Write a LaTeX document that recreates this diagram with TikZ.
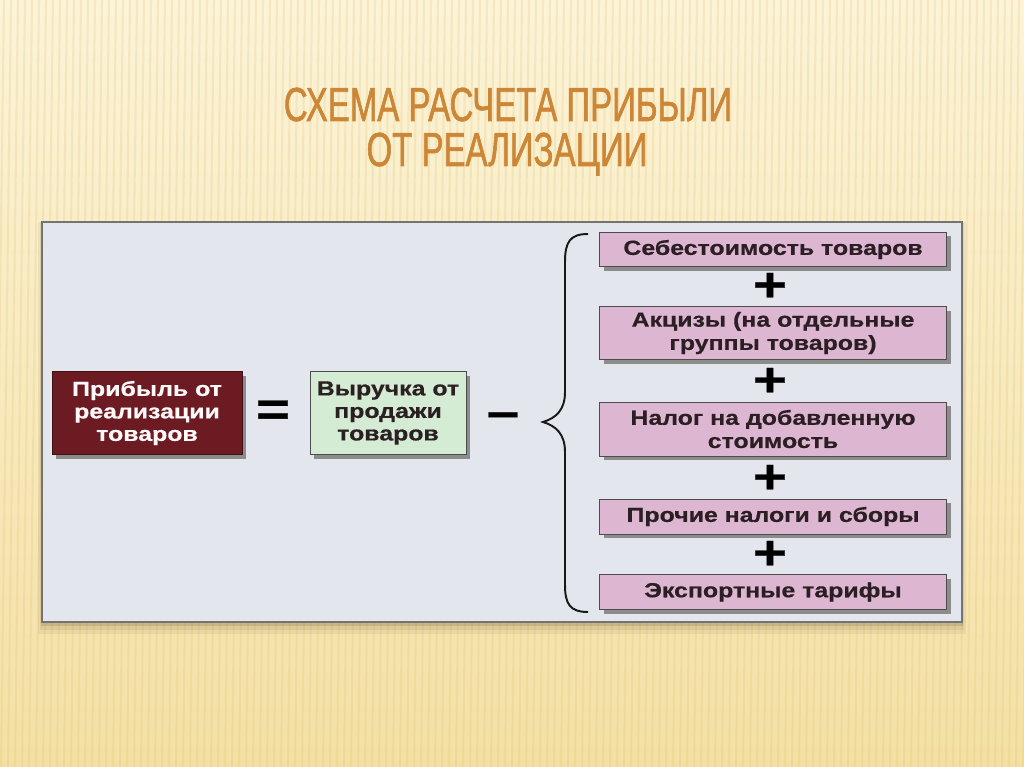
\documentclass[tikz,border=0pt]{standalone}
\usepackage{fontspec}
\setmainfont{Liberation Sans}
\newfontfamily\titlefont[FakeStretch=0.69,FakeBold=1.2]{Liberation Sans}
\newfontfamily\boxfont[FakeStretch=1.22,FakeBold=0.6]{Liberation Sans}
\usetikzlibrary{positioning}

\definecolor{bgtop}{HTML}{FCF4D9}
\definecolor{bgbot}{HTML}{F4E0A4}
\definecolor{stripe}{HTML}{E2C678}
\definecolor{panelfill}{HTML}{E3E6EC}
\definecolor{maroon}{HTML}{6B1B21}
\definecolor{mint}{HTML}{D4ECD3}
\definecolor{lilac}{HTML}{DDB6D2}
\definecolor{titlegold}{HTML}{CD8636}
\definecolor{ink}{HTML}{2B1F24}

\tikzset{
  every node/.style={font=\boxfont\bfseries},
  box/.style={draw=black!70,line width=0.6pt,align=center,inner sep=2pt},
  termbox/.style={box,fill=lilac,text=ink,minimum width=8.675cm,font=\boxfont\bfseries\fontsize{14.5}{16.5}\selectfont},
  sign/.style={font=\boxfont\bfseries\fontsize{34}{34}\selectfont,inner sep=0pt},
  headline/.style={font=\titlefont\fontsize{34}{34}\selectfont,text=titlegold,inner sep=0pt,anchor=base}
}

\begin{document}
\begin{tikzpicture}[x=0.025cm,y=-0.025cm]
\useasboundingbox (0,0) rectangle (1024,767);
\shade[top color=bgtop,bottom color=bgbot] (0,0) rectangle (1024,767);
\foreach \i in {-20,-13,...,1040}
  \draw[stripe,opacity=0.25,line width=1.5pt] (\i+10,0) -- (\i,767);

% title
\node[headline] (title1) at (508,121) {СХЕМА РАСЧЕТА ПРИБЫЛИ};
\node[headline] (title2) at (507,166) {ОТ РЕАЛИЗАЦИИ};

% panel
\foreach \d/\o in {12/0.06,8/0.08,4/0.12}
  \fill[black!70!brown,opacity=\o] (42-\d*0.3,222) rectangle (962+\d*0.3,622+\d);
\fill[panelfill] (42,222) rectangle (962,622);
\draw[black!55,line width=0.8pt] (42,222) rectangle (962,622);

% left side
\fill[black!45] (56,376) rectangle (246,459);
\node[box,draw=maroon!60!black,fill=maroon,text=white!90!pink,minimum width=4.75cm,minimum height=2.075cm,
      font=\boxfont\bfseries\fontsize{14.5}{16}\selectfont] (profit) at (147,413) {Прибыль от\\реализации\\товаров};
\node[sign] (eq) at (273,413) {=};
\fill[black!45] (314,376) rectangle (470,459);
\node[box,fill=mint,text=ink,minimum width=3.9cm,minimum height=2.075cm,
      font=\boxfont\bfseries\fontsize{14.5}{16}\selectfont] (revenue) at (388,413) {Выручка от\\продажи\\товаров};
\node[sign] (minus) at (503,420) {–};

% brace
\draw[line width=1.4pt,black!90] (588,234) .. controls (570,234) and (565,242) .. (565,262) -- (565,392)
  .. controls (565,410) and (556,418) .. (543,422) .. controls (556,426) and (565,434) .. (565,452)
  -- (565,585) .. controls (565,604) and (570,612) .. (588,612);

% terms
\foreach \yc/\h in {249.5/34,333/53,429/54,516.5/35,592/35}
  \fill[black!45] (604,\yc-\h/2+4) rectangle (951,\yc+\h/2+4);
\node[termbox,minimum height=0.85cm] (cost) at (773,249.5) {Себестоимость товаров};
\node[termbox,minimum height=1.325cm] (excise) at (773,333) {Акцизы (на отдельные\\группы товаров)};
\node[termbox,minimum height=1.35cm] (vat) at (773,429) {Налог на добавленную\\стоимость};
\node[termbox,minimum height=0.875cm] (other) at (773,516.5) {Прочие налоги и сборы};
\node[termbox,minimum height=0.875cm] (export) at (773,592) {Экспортные тарифы};

\node[sign] (plus1) at (770,287) {+};
\node[sign] (plus2) at (770,382) {+};
\node[sign] (plus3) at (770,479) {+};
\node[sign] (plus4) at (770,555) {+};
\end{tikzpicture}
\end{document}
